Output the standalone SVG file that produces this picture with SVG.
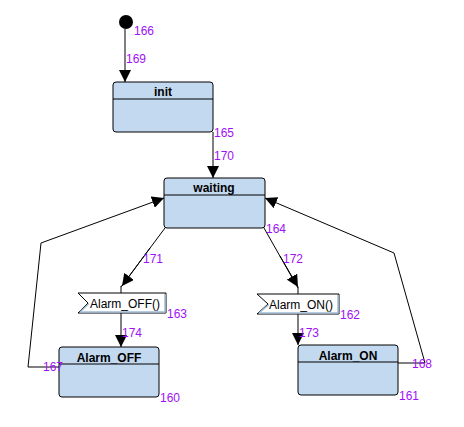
<svg xmlns="http://www.w3.org/2000/svg" width="464" height="427" viewBox="0 0 464 427">
  <style>
    .state rect.body { fill: #c3d9f0; stroke: #000; stroke-width: 1; }
    .state line { stroke: #000; stroke-width: 1; }
    .name { font-family: "Liberation Sans", Arial, sans-serif; font-size: 12px; font-weight: bold; text-anchor: middle; fill: #000; }
    .sig { font-family: "Liberation Sans", Arial, sans-serif; font-size: 12px; fill: #000; }
    .sigbox { fill: #fff; stroke: #000; stroke-width: 1; }
    .sigshade { fill: none; stroke: #9fbcd4; stroke-width: 1.5; }
    .id { font-family: "Liberation Sans", Arial, sans-serif; font-size: 12px; fill: #a010f8; }
    .edge { fill: none; stroke: #000; stroke-width: 1; }
  </style>
  <defs>
    <marker id="arrow" markerUnits="userSpaceOnUse" markerWidth="12" markerHeight="12" viewBox="0 0 10 10" refX="10" refY="5" orient="auto">
      <path d="M0,0 L10,5 L0,10 Z" fill="#000"/>
    </marker>
  </defs>

  <rect width="464" height="427" fill="#fff"/>

  <!-- connectors -->
  <g id="connectors">
    <path class="edge" d="M125,29 V82" marker-end="url(#arrow)"/>
    <path class="edge" d="M213,132 V178" marker-end="url(#arrow)"/>
    <path class="edge" d="M165,228 L121,287"/>
    <path class="edge" d="M150,248 L122,286" marker-end="url(#arrow)"/>
    <path class="edge" d="M121,286 V293"/>
    <path class="edge" d="M121,313 V347" marker-end="url(#arrow)"/>
    <path class="edge" d="M264,228 L298,288"/>
    <path class="edge" d="M280,256 L298,287" marker-end="url(#arrow)"/>
    <path class="edge" d="M298,287 V294"/>
    <path class="edge" d="M298,314 V345" marker-end="url(#arrow)"/>
    <path class="edge" d="M59,367 H28 L41,243 L164,198" marker-end="url(#arrow)"/>
    <path class="edge" d="M398,363 H425 L394,253 L265,198" marker-end="url(#arrow)"/>
  </g>

  <!-- initial pseudo-state -->
  <g id="start">
    <circle cx="126" cy="22" r="7" fill="#000"/>
    <text class="id" x="134" y="35">166</text>
  </g>

  <g id="init" class="state">
    <rect class="body" x="113" y="82" width="100" height="50" rx="3"/>
    <line x1="113" y1="99" x2="213" y2="99"/>
    <text class="name" x="163" y="96">init</text>
    <text class="id" x="214" y="137">165</text>
  </g>

  <g id="waiting" class="state">
    <rect class="body" x="164" y="178" width="101" height="50" rx="3"/>
    <line x1="164" y1="195" x2="265" y2="195"/>
    <text class="name" x="214" y="192">waiting</text>
    <text class="id" x="266" y="233">164</text>
  </g>

  <g id="sig-off">
    <polygon class="sigbox" points="78,293 166,293 166,313 78,313 88,303"/>
    <polyline class="sigshade" points="80,312 89,303.5"/>
    <polyline class="sigshade" points="165,294 165,312 80,312"/>
    <text class="sig" x="90" y="308">Alarm_OFF()</text>
    <text class="id" x="167" y="318">163</text>
  </g>

  <g id="sig-on">
    <polygon class="sigbox" points="257,294 339,294 339,314 257,314 268,304"/>
    <polyline class="sigshade" points="259,313 269,304.5"/>
    <polyline class="sigshade" points="338,295 338,313 259,313"/>
    <text class="sig" x="269" y="309">Alarm_ON()</text>
    <text class="id" x="340" y="319">162</text>
  </g>

  <g id="alarm-off" class="state">
    <rect class="body" x="59" y="347" width="100" height="50" rx="3"/>
    <line x1="59" y1="364" x2="159" y2="364"/>
    <text class="name" x="109" y="362">Alarm_OFF</text>
    <text class="id" x="160" y="402">160</text>
  </g>

  <g id="alarm-on" class="state">
    <rect class="body" x="298" y="345" width="100" height="50" rx="3"/>
    <line x1="298" y1="362" x2="398" y2="362"/>
    <text class="name" x="348" y="360">Alarm_ON</text>
    <text class="id" x="399" y="400">161</text>
  </g>

  <!-- transition ids -->
  <g id="transition-ids">
    <text class="id" x="126" y="63">169</text>
    <text class="id" x="214" y="160">170</text>
    <text class="id" x="143" y="263">171</text>
    <text class="id" x="283" y="263">172</text>
    <text class="id" x="299" y="337">173</text>
    <text class="id" x="122" y="337">174</text>
    <text class="id" x="43" y="371">167</text>
    <text class="id" x="412" y="368">168</text>
  </g>
</svg>
